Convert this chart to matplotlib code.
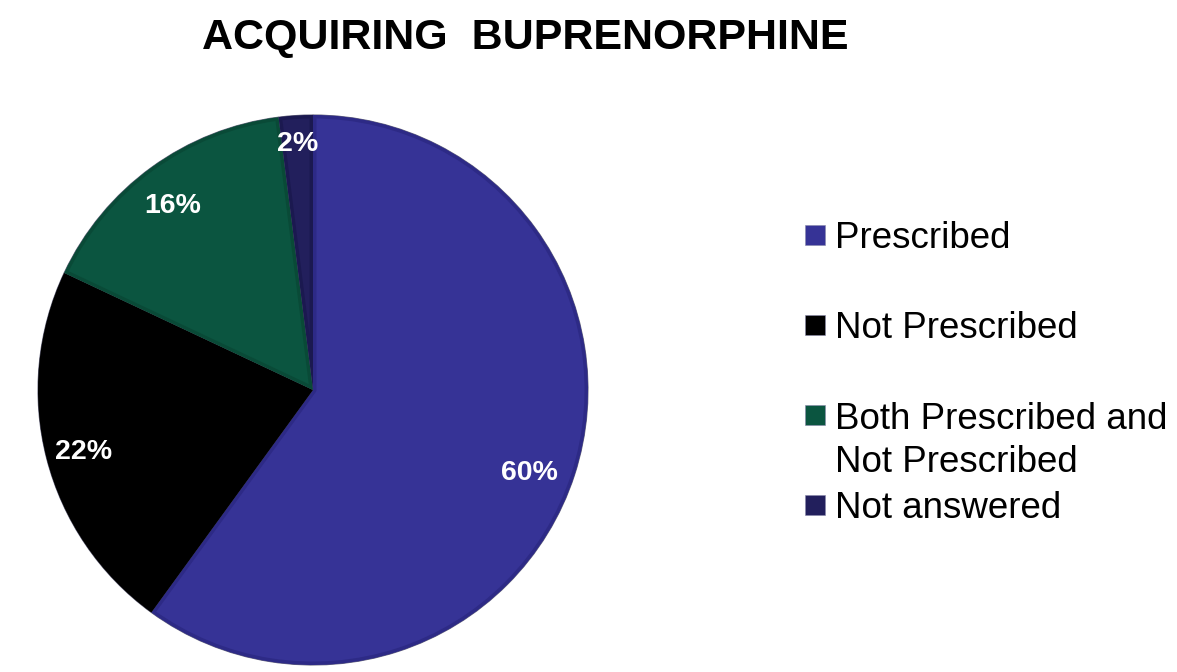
import numpy as np
import matplotlib.pyplot as plt
from matplotlib.patches import Rectangle, Wedge

plt.rcParams['font.family'] = ['Liberation Sans', 'DejaVu Sans']

categories = ["Prescribed", "Not Prescribed", "Both Prescribed and\nNot Prescribed", "Not answered"]
shares = [60, 22, 16, 2]
colors = ["#363396", "#000000", "#0b5540", "#221f5c"]
rim_colors = ["#2d2a86", "#000000", "#094a37", "#1b1950"]
title = "ACQUIRING  BUPRENORPHINE"

W, H = 1177, 672
fig = plt.figure(figsize=(W / 100, H / 100), dpi=100)

# pie axes: centre (313, 390) px, radius 275 px
cx, cy, r = 313, 390, 275
ax = fig.add_axes([(cx - r) / W, (H - cy - r) / H, 2 * r / W, 2 * r / H])
wedges, _ = ax.pie(shares, colors=colors, startangle=90, counterclock=False,
                   radius=1.0,
                   wedgeprops=dict(edgecolor="#6a6a80", linewidth=0.8))
ax.set_xlim(-1, 1)
ax.set_ylim(-1, 1)
ax.set_aspect("equal")
ax.axis("off")

# slightly darker rim just inside each slice
for w, rc in zip(wedges, rim_colors):
    rim = Wedge(w.center, w.r, w.theta1, w.theta2, facecolor="none",
                edgecolor=rc, linewidth=5, zorder=w.get_zorder() + 0.1)
    ax.add_patch(rim)
    rim.set_clip_path(w)

# percentage labels inside the wedges: (radial distance, angular nudge in degrees)
label_pos = [(0.84, -2.3), (0.86, 0.0), (0.85, 0.8), (0.905, 0.0)]
for w, val, (d, nudge) in zip(wedges, shares, label_pos):
    mid = np.deg2rad((w.theta1 + w.theta2) / 2 + nudge)
    ax.text(d * np.cos(mid), d * np.sin(mid) - 0.01, f"{val}%", color="white",
            fontsize=20.5, fontweight="bold", ha="center", va="center", zorder=5)

fig.text(525 / W, 1 - 38 / H, title, ha="center", va="center",
         fontsize=31, fontweight="bold")

# legend entries: (marker y, text centre y) in pixels from the top
marker_y = [235, 325, 415, 505]
text_y = [239, 329, 441, 509]
for name, col, my, ty in zip(categories, colors, marker_y, text_y):
    fig.patches.append(Rectangle((805 / W, 1 - (my + 10) / H), 20 / W, 20 / H,
                                 transform=fig.transFigure, facecolor=col,
                                 edgecolor="#8888aa", linewidth=0.4))
    fig.text(835 / W, 1 - ty / H, name, ha="left", va="center",
             fontsize=26.5, linespacing=1.27)

fig.savefig("out.png", dpi=100, facecolor="white")
